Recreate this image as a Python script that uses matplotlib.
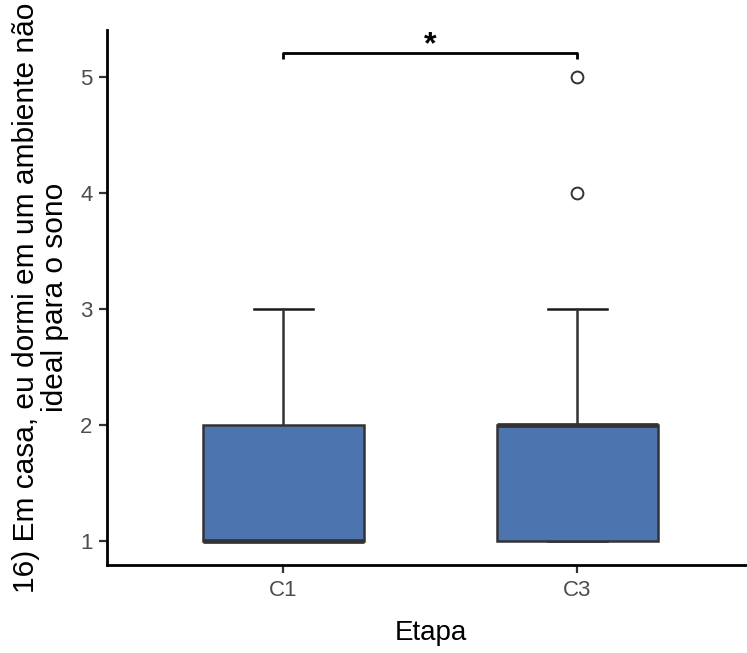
import matplotlib.pyplot as plt

plt.rcParams['font.family'] = ['Liberation Sans', 'DejaVu Sans']

etapas = ["C1", "C3"]
q1 = [1, 1]
medians = [1, 2]
q3 = [2, 2]
whislo = [1, 1]
whishi = [3, 3]
outliers = [[], [4, 5]]

sig_label = "*"
sig_y = 5.21

ylabel = "16) Em casa, eu dormi em um ambiente não\nideal para o sono"
xlabel = "Etapa"

box_color = "#4C75B0"
line_color = "#333333"

fig = plt.figure(figsize=(7.47, 6.53), dpi=100)
ax = fig.add_axes([0.1432, 0.1348, 0.866, 0.819])

stats = []
for i, name in enumerate(etapas):
    stats.append(dict(label=name, q1=q1[i], med=medians[i], q3=q3[i],
                      whislo=whislo[i], whishi=whishi[i], fliers=outliers[i]))

positions = list(range(1, len(etapas) + 1))
ax.bxp(stats, positions=positions, widths=0.55, patch_artist=True,
       boxprops=dict(facecolor=box_color, edgecolor=line_color, linewidth=1.8, zorder=3),
       medianprops=dict(color=line_color, linewidth=3.4, solid_capstyle="butt", zorder=4),
       whiskerprops=dict(color=line_color, linewidth=1.8, zorder=2),
       capprops=dict(color="#1a1a1a", linewidth=1.8, zorder=1),
       capwidths=0.2,
       flierprops=dict(marker="o", markerfacecolor="white", markeredgecolor=line_color,
                       markersize=8.5, markeredgewidth=1.4))

# significance bracket
ax.plot([positions[0], positions[0], positions[1], positions[1]],
        [sig_y - 0.055, sig_y, sig_y, sig_y - 0.055], color="black", linewidth=2.0,
        solid_capstyle="butt")
ax.text(sum(positions) / 2, sig_y - 0.065, sig_label, ha="center", va="bottom",
        fontsize=23, fontweight="bold")

ax.set_xlim(0.4, 2.6)
ax.set_ylim(0.793, 5.405)
ax.set_yticks([1, 2, 3, 4, 5])
ax.set_xticks(positions)
ax.set_xticklabels(etapas)

for s in ["top", "right"]:
    ax.spines[s].set_visible(False)
for s in ["left", "bottom"]:
    ax.spines[s].set_linewidth(2.0)
    ax.spines[s].set_color("black")

ax.tick_params(axis="both", colors="#333333", labelcolor="#4D4D4D", labelsize=16,
               length=5.5, width=1.6)
ax.tick_params(axis="x", pad=5)
ax.tick_params(axis="y", pad=5)

ax.set_xlabel(xlabel, fontsize=20, labelpad=14)
ax.set_ylabel(ylabel, fontsize=21.5, labelpad=8, linespacing=1.05)

fig.savefig("out.png", dpi=100)
